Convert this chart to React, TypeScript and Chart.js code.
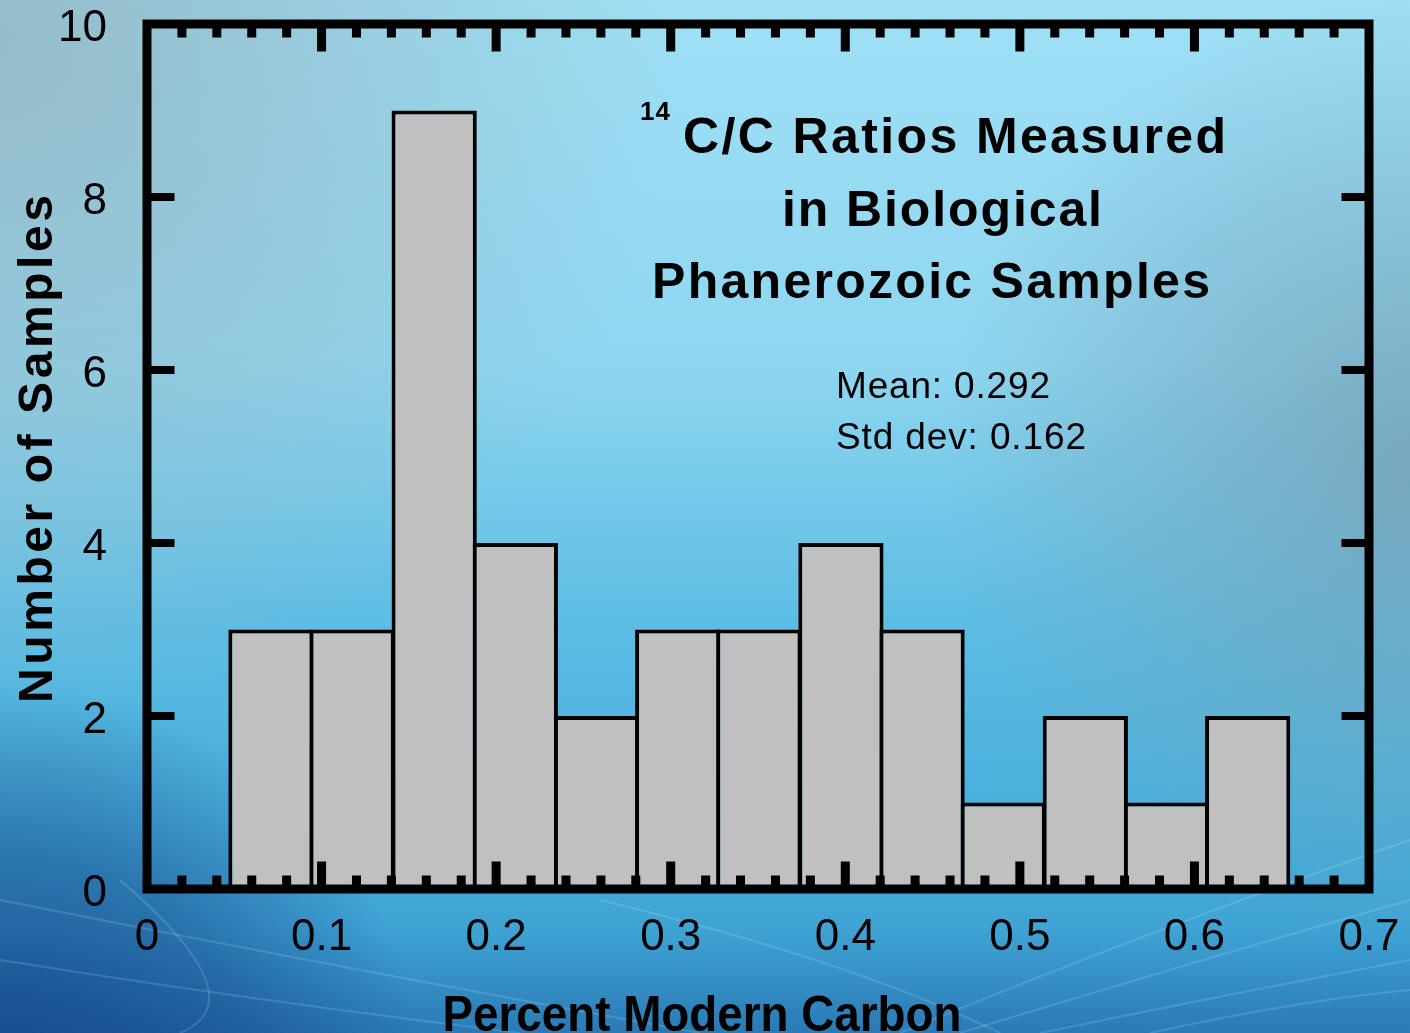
import { useEffect, useRef } from 'react';
import { Chart, registerables } from 'chart.js';

Chart.register(...registerables);

// ---- data ----
const binCenters = [0.071, 0.1175, 0.1645, 0.211, 0.2575, 0.304, 0.3505, 0.3975, 0.444, 0.4905, 0.5375, 0.584, 0.6305];
const sampleCounts = [3, 3, 9, 4, 2, 3, 3, 4, 3, 1, 2, 1, 2];
const xTickValues = [0, 0.1, 0.2, 0.3, 0.4, 0.5, 0.6, 0.7];
const xTickLabels = ['0', '0.1', '0.2', '0.3', '0.4', '0.5', '0.6', '0.7'];
const yTickValues = [0, 2, 4, 6, 8, 10];
const yTickLabels = ['0', '2', '4', '6', '8', '10'];
const titleSuperscript = '14';
const titleLines = ['C/C Ratios Measured', 'in Biological', 'Phanerozoic Samples'];
const statsLines = ['Mean: 0.292', 'Std dev: 0.162'];
const xAxisTitle = 'Percent Modern Carbon';
const yAxisTitle = 'Number of Samples';

const FONT = '"Liberation Sans", Arial, Helvetica, sans-serif';
const W = 1410;
const H = 1033;

function fitText(
  ctx: CanvasRenderingContext2D,
  text: string,
  x: number,
  y: number,
  size: number,
  weight: string,
  target: number,
  align: 'left' | 'center' | 'right',
  rot = 0
) {
  ctx.save();
  ctx.translate(x, y);
  if (rot) ctx.rotate(rot);
  ctx.font = `${weight} ${size}px ${FONT}`;
  (ctx as any).letterSpacing = '0px';
  const w0 = ctx.measureText(text).width;
  const n = text.length;
  let sx = 1;
  let sp = 0;
  if (target > 0 && n > 1) {
    sp = (target - w0) / (n - 1);
    if (sp < 0) {
      sx = target / w0;
      sp = 0;
    }
  }
  (ctx as any).letterSpacing = sp + 'px';
  const w = w0 + sp * (n - 1);
  ctx.scale(sx, 1);
  const off = align === 'center' ? -w / 2 : align === 'right' ? -w : 0;
  ctx.textAlign = 'left';
  ctx.textBaseline = 'alphabetic';
  ctx.fillStyle = '#000';
  ctx.fillText(text, off, 0);
  ctx.restore();
}

const backgroundPlugin = {
  id: 'bgPlugin',
  beforeDraw(chart: any) {
    const ctx: CanvasRenderingContext2D = chart.ctx;
    ctx.save();
    const g = ctx.createLinearGradient(0, 0, 0, H);
    g.addColorStop(0, '#9fe0f5');
    g.addColorStop(0.35, '#8fd6f0');
    g.addColorStop(0.6, '#5dbde4');
    g.addColorStop(0.8, '#47aedb');
    g.addColorStop(0.9, '#3fa3d4');
    g.addColorStop(1, '#2a7ab5');
    ctx.fillStyle = g;
    ctx.fillRect(0, 0, W, H);

    // grey-ish upper left
    let r = ctx.createRadialGradient(0, 40, 0, 0, 40, 680);
    r.addColorStop(0, 'rgba(148,186,200,0.95)');
    r.addColorStop(0.5, 'rgba(148,186,200,0.5)');
    r.addColorStop(1, 'rgba(148,186,200,0)');
    ctx.fillStyle = r;
    ctx.fillRect(0, 0, W, H);

    // grey-ish right middle
    r = ctx.createRadialGradient(1420, 470, 0, 1420, 470, 480);
    r.addColorStop(0, 'rgba(118,162,182,0.85)');
    r.addColorStop(1, 'rgba(118,162,182,0)');
    ctx.fillStyle = r;
    ctx.fillRect(0, 0, W, H);

    // dark bottom-left
    r = ctx.createRadialGradient(0, 1110, 0, 0, 1110, 430);
    r.addColorStop(0, 'rgba(20,68,135,0.95)');
    r.addColorStop(0.6, 'rgba(20,68,135,0.5)');
    r.addColorStop(1, 'rgba(20,68,135,0)');
    ctx.fillStyle = r;
    ctx.fillRect(0, 0, W, H);

    // faint light streaks
    ctx.strokeStyle = 'rgba(220,245,255,0.16)';
    ctx.lineWidth = 2;
    const curves: number[][] = [
      [0, 900, 300, 960, 700, 1033],
      [0, 960, 250, 1000, 520, 1033],
      [120, 880, 260, 1000, 180, 1033],
      [900, 1033, 1150, 930, 1410, 840],
      [960, 1033, 1200, 960, 1410, 900],
      [1040, 1033, 1250, 990, 1410, 960],
      [1150, 1033, 1300, 1000, 1410, 990],
      [600, 900, 850, 960, 1000, 1033],
    ];
    curves.forEach((c) => {
      ctx.beginPath();
      ctx.moveTo(c[0], c[1]);
      ctx.quadraticCurveTo(c[2], c[3], c[4], c[5]);
      ctx.stroke();
    });
    ctx.restore();
  },
};

const framePlugin = {
  id: 'framePlugin',
  afterDatasetsDraw(chart: any) {
    const ctx: CanvasRenderingContext2D = chart.ctx;
    const xs = chart.scales.x;
    const ys = chart.scales.y;
    const { left, right, top, bottom } = chart.chartArea;
    const half = 4.5;
    ctx.save();
    ctx.fillStyle = '#000';
    // x ticks (minor every 0.02, major every 0.1)
    for (let i = 1; i < 35; i++) {
      const px = xs.getPixelForValue(i * 0.02);
      const len = i % 5 === 0 ? 23 : 9;
      ctx.fillRect(px - 4.5, top, 9, half + len);
      ctx.fillRect(px - 4.5, bottom - half - len, 9, half + len);
    }
    // y ticks
    yTickValues.forEach((v) => {
      if (v === 0 || v === 10) return;
      const py = ys.getPixelForValue(v);
      ctx.fillRect(left, py - 4, half + 23, 8);
      ctx.fillRect(right - half - 23, py - 4, half + 23, 8);
    });
    ctx.strokeStyle = '#000';
    ctx.lineWidth = 9;
    ctx.lineJoin = 'miter';
    ctx.strokeRect(left, top, right - left, bottom - top);
    ctx.restore();
  },
  afterDraw(chart: any) {
    const ctx: CanvasRenderingContext2D = chart.ctx;
    const xs = chart.scales.x;
    const ys = chart.scales.y;
    // tick labels
    xTickValues.forEach((v, i) => {
      const px = xs.getPixelForValue(v);
      fitText(ctx, xTickLabels[i], px, 950, 44, 'normal', 0, 'center');
    });
    yTickValues.forEach((v, i) => {
      const py = ys.getPixelForValue(v);
      fitText(ctx, yTickLabels[i], 107, py + 17, 44, 'normal', 0, 'right');
    });
    // titles
    fitText(ctx, titleSuperscript, 640, 120, 26, 'bold', 30, 'left');
    fitText(ctx, titleLines[0], 683, 153, 50, 'bold', 543, 'left');
    fitText(ctx, titleLines[1], 942, 226, 50, 'bold', 320, 'center');
    fitText(ctx, titleLines[2], 652, 298, 50, 'bold', 558, 'left');
    fitText(ctx, statsLines[0], 836, 398, 37, 'normal', 214, 'left');
    fitText(ctx, statsLines[1], 836, 449, 37, 'normal', 250, 'left');
    fitText(ctx, xAxisTitle, 702, 1031, 50, 'bold', 519, 'center');
    fitText(ctx, yAxisTitle, 52, 449, 48, 'bold', 508, 'center', -Math.PI / 2);
  },
};

export default function App() {
  const ref = useRef<HTMLCanvasElement | null>(null);
  useEffect(() => {
    if (!ref.current) return;
    const chart = new Chart(ref.current, {
      type: 'bar',
      data: {
        datasets: [
          {
            data: binCenters.map((c, i) => ({ x: c, y: sampleCounts[i] })),
            backgroundColor: '#c0c0c0',
            borderColor: '#000000',
            borderWidth: 4,
            barPercentage: 1.05,
            categoryPercentage: 1,
          } as any,
        ],
      },
      options: {
        animation: false,
        responsive: false,
        devicePixelRatio: 1,
        layout: { padding: { left: 147, top: 24, right: 41, bottom: 144 } },
        plugins: { legend: { display: false }, tooltip: { enabled: false } },
        scales: {
          x: { type: 'linear', min: 0, max: 0.7, offset: false, display: false, ticks: { stepSize: 0.1 } },
          y: { type: 'linear', min: 0, max: 10, display: false, ticks: { stepSize: 2 } },
        },
      },
      plugins: [backgroundPlugin, framePlugin],
    });
    return () => chart.destroy();
  }, []);
  return (
    <div style={{ position: 'fixed', left: 0, top: 0, width: W, height: H }}>
      <canvas ref={ref} width={W} height={H} style={{ display: 'block', width: W, height: H }} />
    </div>
  );
}
